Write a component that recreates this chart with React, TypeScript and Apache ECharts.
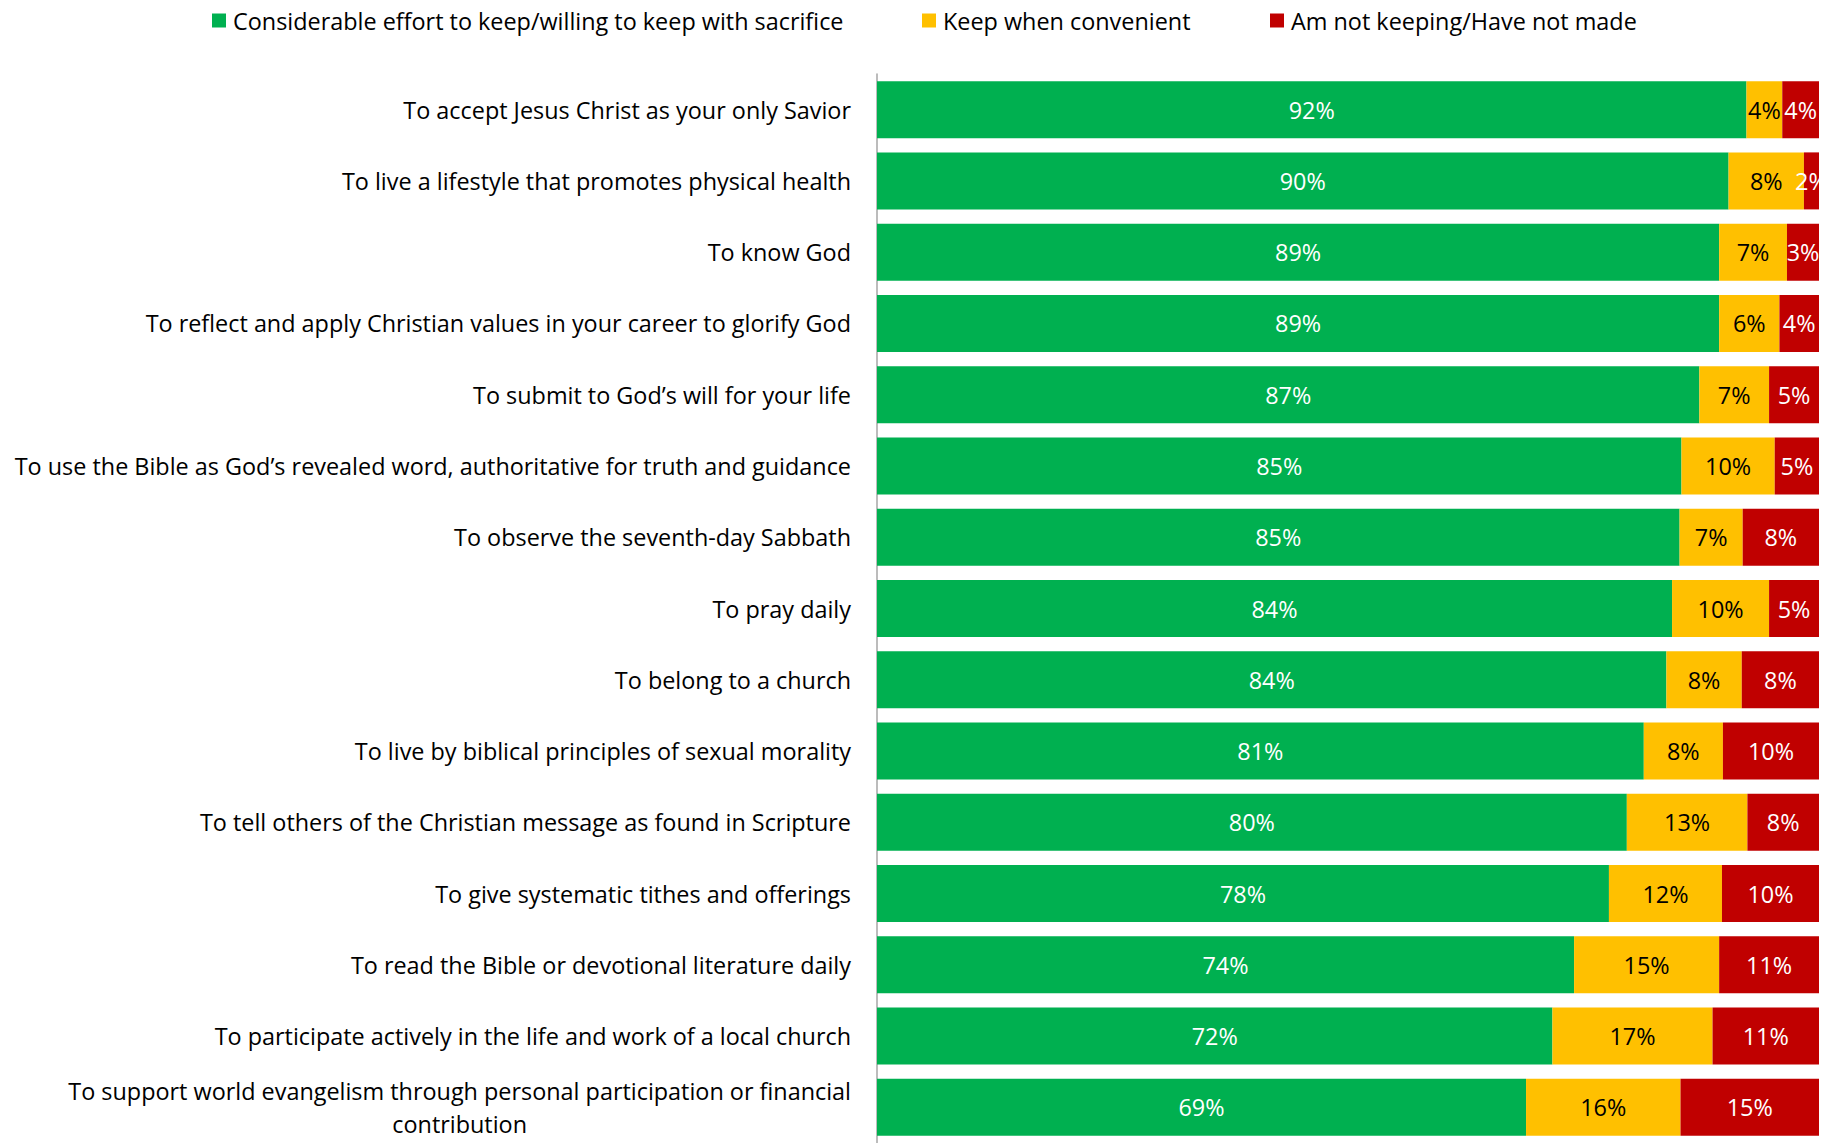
import React, { useEffect, useRef } from "react";
import * as echarts from "echarts";

const categories = [
  "To accept Jesus Christ as your only Savior",
  "To live a lifestyle that promotes physical health",
  "To know God",
  "To reflect and apply Christian values in your career to glorify God",
  "To submit to God\u2019s will for your life",
  "To use the Bible as God\u2019s revealed word, authoritative for truth and guidance",
  "To observe the seventh-day Sabbath",
  "To pray daily",
  "To belong to a church",
  "To live by biblical principles of sexual morality",
  "To tell others of the Christian message as found in Scripture",
  "To give systematic tithes and offerings",
  "To read the Bible or devotional literature daily",
  "To participate actively in the life and work of a local church",
  "To support world evangelism through personal participation or financial\ncontribution",
];

const seriesNames = [
  "Considerable effort to keep/willing to keep with sacrifice",
  "Keep when convenient",
  "Am not keeping/Have not made",
];

const sacrifice = [92.3, 90.4, 89.4, 89.4, 87.3, 85.4, 85.2, 84.4, 83.8, 81.4, 79.6, 77.7, 74.0, 71.7, 68.9];
const convenient = [3.8, 8.0, 7.2, 6.4, 7.4, 9.9, 6.7, 10.3, 8.0, 8.4, 12.8, 12.0, 15.4, 17.0, 16.4];
const notKeeping = [3.9, 1.6, 3.4, 4.2, 5.3, 4.7, 8.1, 5.3, 8.2, 10.2, 7.6, 10.3, 10.6, 11.3, 14.7];

const colors = ["#00B050", "#FFC000", "#C00000"];
const labelColors = ["#FFFFFF", "#000000", "#FFFFFF"];

const FONT = "Open Sans";
const FS = 23.4;

export default function App() {
  const ref = useRef<HTMLDivElement>(null);

  useEffect(() => {
    document.body.style.margin = "0";
    if (!ref.current) return;
    const chart = echarts.init(ref.current, null, { renderer: "svg" });
    const dataSets = [sacrifice, convenient, notKeeping];
    const legendLefts = [212, 922, 1270];

    const option: any = {
      animation: false,
      color: colors,
      legend: seriesNames.map((n, i) => ({
        data: [n],
        left: legendLefts[i],
        top: 9,
        icon: "rect",
        itemWidth: 14,
        itemHeight: 14,
        itemGap: 7,
        padding: 0,
        selectedMode: false,
        textStyle: { fontFamily: FONT, fontSize: FS, color: "#000", padding: [0, 0, 0, 2] },
      })),
      grid: { left: 877, right: 10, top: 74, height: 1073, containLabel: false },
      xAxis: { type: "value", min: 0, max: 100, show: false },
      yAxis: {
        type: "category",
        data: categories,
        inverse: true,
        axisTick: { show: false },
        axisLine: { show: true, lineStyle: { color: "#A6A6A6", width: 1.5 } },
        axisLabel: {
          margin: 26,
          align: "right",
          fontFamily: FONT,
          fontSize: FS,
          color: "#000",
          formatter: (v: string) =>
            v.indexOf("\n") >= 0
              ? v
                  .split("\n")
                  .map((s) => "{c|" + s + "}")
                  .join("\n")
              : v,
          rich: {
            c: { align: "center", fontFamily: FONT, fontSize: FS, color: "#000", lineHeight: 33 },
          },
        },
      },
      series: seriesNames.map((n, i) => ({
        name: n,
        type: "bar",
        stack: "total",
        barCategoryGap: "20%",
        data: dataSets[i],
        itemStyle: { color: colors[i] },
        label: {
          show: true,
          position: "inside",
          formatter: (p: any) => Math.round(p.value) + "%",
          color: labelColors[i],
          fontFamily: FONT,
          fontSize: FS,
        },
      })),
    };
    chart.setOption(option);
    return () => chart.dispose();
  }, []);

  return <div ref={ref} style={{ width: 1829, height: 1143 }} />;
}
